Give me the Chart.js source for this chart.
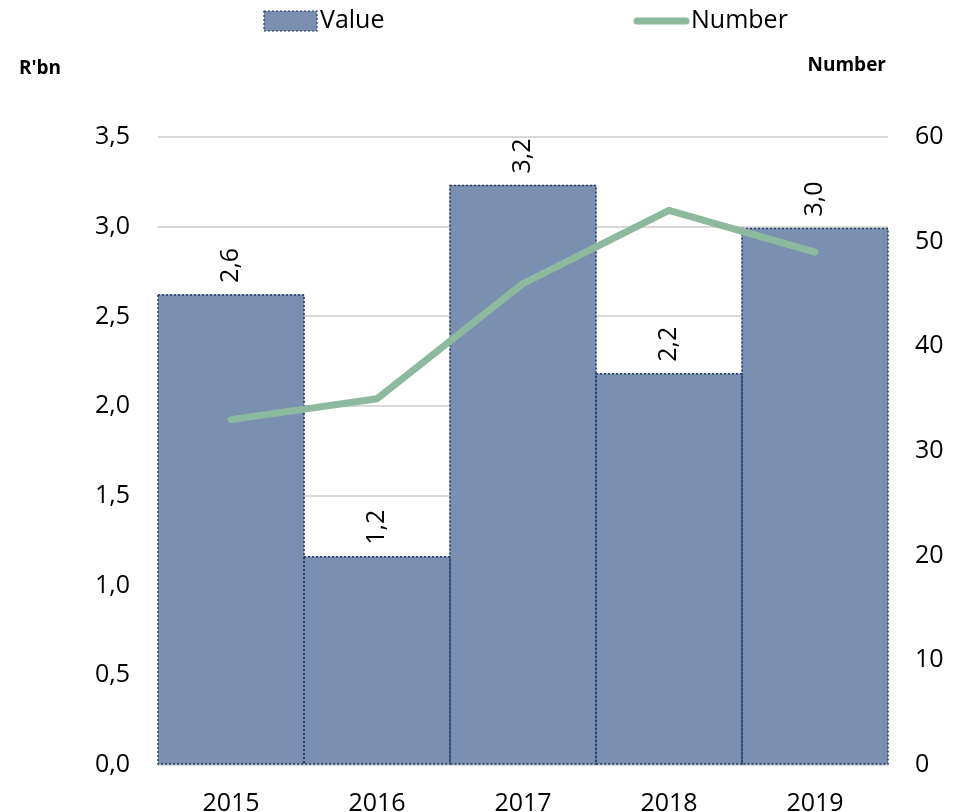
<!DOCTYPE html>
<html>
<head>
<meta charset="utf-8">
<script src="https://cdn.jsdelivr.net/npm/chart.js@4.4.1/dist/chart.umd.min.js"></script>
<style>
  html, body { margin: 0; padding: 0; background: #fff; }
  #wrap { position: relative; width: 964px; height: 812px; }
</style>
</head>
<body>
<div id="wrap"><canvas id="chart" width="964" height="812"></canvas></div>
<script>
const years = ['2015', '2016', '2017', '2018', '2019'];
const valueData = [2.62, 1.16, 3.23, 2.18, 2.99];
const numberData = [33, 35, 46, 53, 49];
const leftTicks = [0, 0.5, 1, 1.5, 2, 2.5, 3, 3.5];
const rightTicks = [0, 10, 20, 30, 40, 50, 60];

const FONT = "'Open Sans', sans-serif";
const barFill = '#7b8fb0';
const barEdge = '#1f3a64';
const lineColor = '#8dba9f';
const fmt = (v) => v.toFixed(1).replace('.', ',');

const extras = {
  id: 'extras',
  afterDatasetDraw(chart, args) {
    if (args.index !== 0) return;
    const ctx = chart.ctx;
    ctx.save();
    ctx.strokeStyle = barEdge;
    ctx.lineWidth = 1.5;
    ctx.setLineDash([2, 2]);
    args.meta.data.forEach((bar) => {
      const p = bar.getProps(['x', 'y', 'base', 'width'], true);
      ctx.strokeRect(p.x - p.width / 2, p.y, p.width, p.base - p.y);
    });
    ctx.restore();
  },
  afterDraw(chart) {
    const ctx = chart.ctx;
    ctx.save();
    // value labels, rotated
    ctx.fillStyle = '#000';
    ctx.font = '25px ' + FONT;
    ctx.textAlign = 'left';
    ctx.textBaseline = 'middle';
    chart.getDatasetMeta(0).data.forEach((bar, i) => {
      ctx.save();
      ctx.translate(bar.x, bar.y - 12);
      ctx.rotate(-Math.PI / 2);
      ctx.fillText(fmt(valueData[i]), 0, 0);
      ctx.restore();
    });
    // axis titles
    ctx.font = 'bold 19px ' + FONT;
    ctx.textBaseline = 'middle';
    ctx.textAlign = 'left';
    ctx.fillText("R'bn", 19, 69);
    ctx.textAlign = 'right';
    ctx.fillText('Number', 886, 66);
    // legend
    ctx.fillStyle = barFill;
    ctx.fillRect(264, 11, 53, 20);
    ctx.strokeStyle = barEdge;
    ctx.lineWidth = 1.2;
    ctx.setLineDash([2, 2]);
    ctx.strokeRect(264, 11, 53, 20);
    ctx.setLineDash([]);
    ctx.strokeStyle = lineColor;
    ctx.lineWidth = 7;
    ctx.lineCap = 'round';
    ctx.beginPath();
    ctx.moveTo(637, 21);
    ctx.lineTo(686, 21);
    ctx.stroke();
    ctx.fillStyle = '#000';
    ctx.font = '25px ' + FONT;
    ctx.textAlign = 'left';
    ctx.fillText('Value', 320, 21);
    ctx.fillText('Number', 691, 21);
    ctx.restore();
  }
};

new Chart(document.getElementById('chart'), {
  data: {
    labels: years,
    datasets: [
      {
        type: 'bar',
        label: 'Value',
        data: valueData,
        backgroundColor: barFill,
        borderWidth: 0,
        barPercentage: 1,
        categoryPercentage: 1,
        yAxisID: 'y',
        order: 2
      },
      {
        type: 'line',
        label: 'Number',
        data: numberData,
        borderColor: lineColor,
        borderWidth: 7,
        borderCapStyle: 'round',
        borderJoinStyle: 'round',
        pointRadius: 0,
        tension: 0,
        yAxisID: 'y1',
        order: 1
      }
    ]
  },
  options: {
    responsive: false,
    animation: false,
    layout: { padding: { top: 137, left: 0, right: 0, bottom: 0 } },
    plugins: {
      legend: { display: false },
      tooltip: { enabled: false }
    },
    scales: {
      x: {
        grid: { display: false },
        border: { display: false },
        ticks: { color: '#000', font: { size: 25, family: FONT }, padding: 16 },
        afterFit: (s) => { s.height = 47; }
      },
      y: {
        position: 'left',
        min: 0,
        max: 3.5,
        afterBuildTicks: (s) => { s.ticks = leftTicks.map(v => ({ value: v })); },
        ticks: {
          color: '#000',
          font: { size: 25, family: FONT },
          padding: 28,
          callback: (v) => fmt(v)
        },
        grid: { color: '#d9d9d9', lineWidth: 2, drawTicks: false },
        border: { display: false },
        afterFit: (s) => { s.width = 158; }
      },
      y1: {
        position: 'right',
        min: 0,
        max: 60,
        afterBuildTicks: (s) => { s.ticks = rightTicks.map(v => ({ value: v })); },
        ticks: {
          color: '#000',
          font: { size: 25, family: FONT },
          padding: 27
        },
        grid: { display: false, drawTicks: false },
        border: { display: false },
        afterFit: (s) => { s.width = 76; }
      }
    }
  },
  plugins: [extras]
});
</script>
</body>
</html>
